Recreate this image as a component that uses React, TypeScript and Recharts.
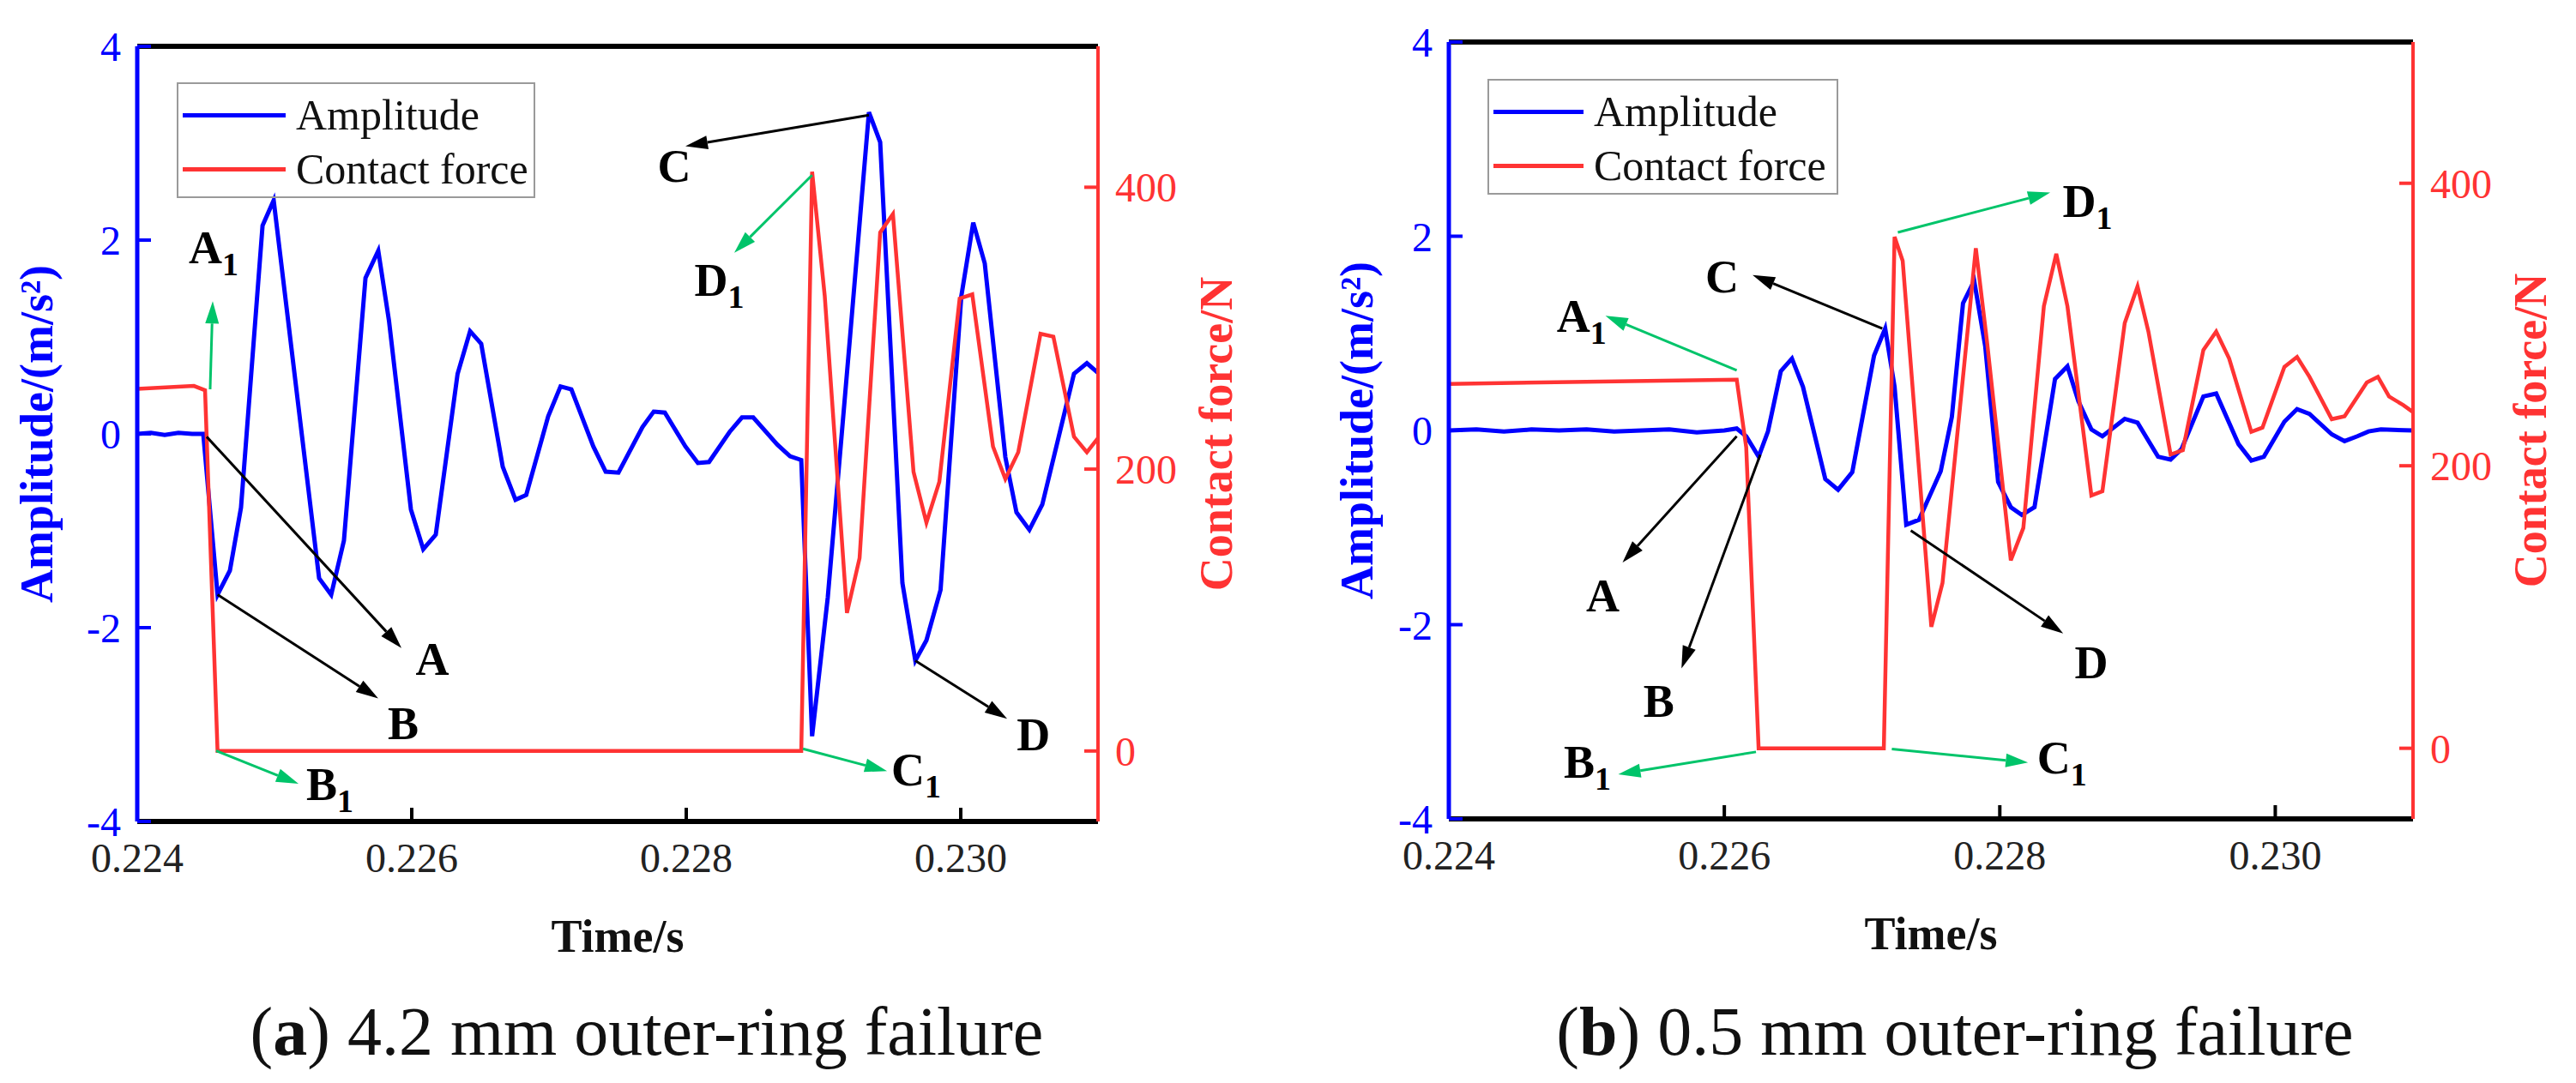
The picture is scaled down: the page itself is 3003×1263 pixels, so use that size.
import React from 'react';
import { LineChart, Line, XAxis, YAxis, ReferenceLine, ReferenceDot, Legend } from 'recharts';

// ---- (a) 4.2 mm outer-ring failure ----
const timeAmpA = [
  0.224, 0.2241, 0.2242, 0.2243, 0.2244, 0.224481, 0.224585, 0.224675, 0.224756, 0.224913,
  0.224994, 0.225325, 0.225413, 0.225506, 0.225663, 0.225756, 0.225834, 0.225994, 0.226084, 0.226175,
  0.226334, 0.226425, 0.226506, 0.226663, 0.226756, 0.226834, 0.226994, 0.227084, 0.227163, 0.227323,
  0.227413, 0.227506, 0.227681, 0.227763, 0.227844, 0.227994, 0.228085, 0.228166, 0.228316, 0.228406,
  0.228488, 0.228663, 0.228756, 0.228838, 0.228917, 0.229031, 0.229194, 0.229331, 0.229413, 0.229575,
  0.229669, 0.22975, 0.229853, 0.230004, 0.230091, 0.230175, 0.230325, 0.230406, 0.2305, 0.230594,
  0.230825, 0.230919, 0.231,
];
const ampA = [
  0.0, 0.01, -0.01, 0.01, 0.0, 0.0, -1.66, -1.41, -0.76, 2.15,
  2.41, -1.49, -1.66, -1.1, 1.61, 1.89, 1.17, -0.78, -1.19, -1.04,
  0.62, 1.06, 0.93, -0.34, -0.68, -0.63, 0.18, 0.49, 0.46, -0.13,
  -0.39, -0.4, 0.07, 0.23, 0.22, -0.13, -0.3, -0.29, 0.02, 0.17,
  0.17, -0.11, -0.23, -0.27, -3.12, -1.69, 1.01, 3.32, 3.01, -1.54,
  -2.34, -2.13, -1.61, 1.42, 2.18, 1.76, -0.24, -0.81, -0.99, -0.73,
  0.62, 0.73, 0.63,
];
const timeForceA = [
  0.224, 0.224413, 0.224494, 0.224585, 0.228838, 0.228917, 0.229009, 0.229171, 0.229263, 0.229413,
  0.229506, 0.229656, 0.22975, 0.229844, 0.229992, 0.230084, 0.230235, 0.230325, 0.230419, 0.230581,
  0.230675, 0.230825, 0.230919, 0.231,
];
const forceA = [
  257, 259, 256, 0, 0, 411, 323, 98, 137, 368,
  381, 198, 162, 191, 321, 324, 216, 193, 212, 296,
  294, 223, 212, 222,
];

// ---- (b) 0.5 mm outer-ring failure ----
const timeAmpB = [
  0.224, 0.2242, 0.2244, 0.2246, 0.2248, 0.225, 0.2252, 0.2254, 0.2256, 0.2258,
  0.226, 0.22609, 0.226159, 0.226249, 0.226317, 0.22641, 0.226491, 0.226571, 0.226733, 0.226826,
  0.226929, 0.227087, 0.227168, 0.227236, 0.227321, 0.227413, 0.227571, 0.227652, 0.227733, 0.227814,
  0.227894, 0.227988, 0.22808, 0.22816, 0.228252, 0.228401, 0.228491, 0.228571, 0.228665, 0.228745,
  0.228907, 0.229, 0.229149, 0.22924, 0.22932, 0.229478, 0.229571, 0.229733, 0.229826, 0.229917,
  0.230066, 0.230158, 0.230248, 0.23041, 0.230503, 0.230596, 0.230677, 0.230767, 0.231,
];
const ampB = [
  0.0, 0.01, -0.01, 0.01, 0.0, 0.01, -0.01, 0.0, 0.01, -0.02,
  0.0, 0.02, -0.06, -0.27, -0.01, 0.61, 0.74, 0.45, -0.5, -0.61,
  -0.43, 0.77, 1.05, 0.45, -0.97, -0.92, -0.42, 0.14, 1.31, 1.54,
  0.87, -0.53, -0.79, -0.87, -0.79, 0.53, 0.66, 0.3, 0.01, -0.06,
  0.12, 0.08, -0.27, -0.3, -0.19, 0.35, 0.38, -0.14, -0.31, -0.27,
  0.09, 0.22, 0.17, -0.04, -0.11, -0.06, -0.01, 0.01, 0.0,
];
const timeForceB = [
  0.224, 0.22609, 0.226159, 0.226249, 0.227158, 0.227236, 0.227295, 0.227503, 0.227584, 0.227826,
  0.227907, 0.22808, 0.228171, 0.22832, 0.22841, 0.228491, 0.228665, 0.228745, 0.228907, 0.229,
  0.229079, 0.22924, 0.229329, 0.229478, 0.229571, 0.229665, 0.229826, 0.229907, 0.230066, 0.230158,
  0.230248, 0.23041, 0.230503, 0.230665, 0.230745, 0.230826, 0.230929, 0.231,
];
const forceB = [
  258, 261, 213, 0, 0, 362, 345, 86, 117, 354,
  288, 133, 156, 313, 350, 313, 179, 182, 301, 327,
  295, 208, 211, 282, 295, 276, 224, 227, 270, 277,
  263, 233, 235, 259, 263, 249, 243, 238,
];

const timeTicks = [0.224, 0.226, 0.228, 0.23];
const ampTicks = [-4, -2, 0, 2, 4];
const forceTicks = [0, 200, 400];

// annotations, in (time, amplitude) coordinates
type Arrow = { from: [number, number]; to: [number, number]; kind: 'vib' | 'force' };
type Mark = { t: number; amp: number; text: string; sub?: string };

const arrowsA: Arrow[] = [
  { from: [0.224531, 0.46], to: [0.22455, 1.37], kind: 'force' },
  { from: [0.224506, -0.03], to: [0.225925, -2.21], kind: 'vib' },
  { from: [0.224585, -1.66], to: [0.225756, -2.73], kind: 'vib' },
  { from: [0.224575, -3.27], to: [0.225175, -3.61], kind: 'force' },
  { from: [0.229331, 3.29], to: [0.227994, 2.97], kind: 'vib' },
  { from: [0.228917, 2.67], to: [0.22835, 1.87], kind: 'force' },
  { from: [0.229669, -2.34], to: [0.230338, -2.94], kind: 'vib' },
  { from: [0.22885, -3.25], to: [0.229463, -3.48], kind: 'force' },
];
const marksA: Mark[] = [
  { t: 0.224556, amp: 1.92, text: 'A', sub: '1' },
  { t: 0.22615, amp: -2.33, text: 'A' },
  { t: 0.225938, amp: -2.99, text: 'B' },
  { t: 0.225403, amp: -3.62, text: 'B', sub: '1' },
  { t: 0.227913, amp: 2.76, text: 'C' },
  { t: 0.229675, amp: -3.47, text: 'C', sub: '1' },
  { t: 0.230529, amp: -3.11, text: 'D' },
  { t: 0.228241, amp: 1.58, text: 'D', sub: '1' },
];

const arrowsB: Arrow[] = [
  { from: [0.22609, 0.62], to: [0.225137, 1.18], kind: 'force' },
  { from: [0.22609, -0.06], to: [0.225261, -1.36], kind: 'vib' },
  { from: [0.226261, -0.25], to: [0.225689, -2.45], kind: 'vib' },
  { from: [0.22623, -3.31], to: [0.22523, -3.54], kind: 'force' },
  { from: [0.227147, 1.05], to: [0.226205, 1.6], kind: 'vib' },
  { from: [0.22726, 2.04], to: [0.228366, 2.45], kind: 'force' },
  { from: [0.227354, -1.03], to: [0.22846, -2.09], kind: 'vib' },
  { from: [0.227216, -3.28], to: [0.228205, -3.42], kind: 'force' },
];
const marksB: Mark[] = [
  { t: 0.224963, amp: 1.17, text: 'A', sub: '1' },
  { t: 0.225118, amp: -1.7, text: 'A' },
  { t: 0.225525, amp: -2.79, text: 'B' },
  { t: 0.225006, amp: -3.42, text: 'B', sub: '1' },
  { t: 0.225984, amp: 1.58, text: 'C' },
  { t: 0.228452, amp: -3.37, text: 'C', sub: '1' },
  { t: 0.228665, amp: -2.39, text: 'D' },
  { t: 0.228637, amp: 2.36, text: 'D', sub: '1' },
];

const SERIF = '"Liberation Serif", "Times New Roman", serif';
const BLUE = '#0000FF';
const RED = '#FF3333';
const GREEN = '#00C46A';
const H = 1263;
const AXIS_W = 140;
const XAXIS_H = 100;

const zip = (ts: number[], vs: number[]) => ts.map((t, i) => ({ t, v: vs[i] }));

function ArrowShape(props: any) {
  const { x1, y1, x2, y2, color } = props;
  const dx = x2 - x1;
  const dy = y2 - y1;
  const len = Math.hypot(dx, dy) || 1;
  const ux = dx / len;
  const uy = dy / len;
  const hl = 26;
  const hw = 8;
  const bx = x2 - ux * hl;
  const by = y2 - uy * hl;
  const pts = `${x2},${y2} ${bx - uy * hw},${by + ux * hw} ${bx + uy * hw},${by - ux * hw}`;
  return (
    <g>
      <line x1={x1} y1={y1} x2={bx} y2={by} stroke={color} strokeWidth={3} />
      <polygon points={pts} fill={color} />
    </g>
  );
}

function MarkText(props: any) {
  const { cx, cy, text, sub } = props;
  return (
    <text x={cx} y={cy + 18} textAnchor="middle" fontFamily={SERIF} fontWeight="bold" fontSize={54} fill="#000">
      {text}
      {sub ? (
        <tspan fontSize={38} dy={14}>
          {sub}
        </tspan>
      ) : null}
    </text>
  );
}

type Layout = {
  left: number;
  width: number;
  plotLeft: number;
  plotRight: number;
  plotTop: number;
  plotBottom: number;
  leftTitle: number;
  rightTitle: number;
  timeTitle: number;
  legendLeft: number;
  legendTop: number;
  legendWidth: number;
  legendLine: number;
};

const layoutA: Layout = {
  left: 0, width: 1480, plotLeft: 160, plotRight: 1280, plotTop: 54, plotBottom: 958,
  leftTitle: 117, rightTitle: 138, timeTitle: 152, legendLeft: 206, legendTop: 96, legendWidth: 418, legendLine: 120,
};
const layoutB: Layout = {
  left: 1500, width: 1503, plotLeft: 1689, plotRight: 2813, plotTop: 49, plotBottom: 955,
  leftTitle: 107, rightTitle: 137, timeTitle: 152, legendLeft: 1734, legendTop: 92, legendWidth: 409, legendLine: 105,
};

function Panel({ lay, amp, force, arrows, marks }: { lay: Layout; amp: any[]; force: any[]; arrows: Arrow[]; marks: Mark[] }) {
  const margin = {
    top: lay.plotTop,
    left: lay.plotLeft - lay.left - AXIS_W,
    right: lay.left + lay.width - lay.plotRight - AXIS_W,
    bottom: H - lay.plotBottom - XAXIS_H,
  };
  const midY = (lay.plotTop + lay.plotBottom) / 2;
  const lx = lay.plotLeft - lay.left - lay.leftTitle;
  const rx = lay.plotRight - lay.left + lay.rightTitle;

  const renderLegend = (p: any) => (
    <div
      style={{
        width: lay.legendWidth,
        height: 135,
        boxSizing: 'border-box',
        border: '2px solid #9a9a9a',
        paddingTop: 5,
      }}
    >
      {(p.payload || []).map((e: any) => (
        <div key={e.value} style={{ display: 'flex', alignItems: 'center', height: 63, whiteSpace: 'nowrap' }}>
          <div style={{ marginLeft: 5, width: lay.legendLine, height: 5, background: e.color, flex: 'none' }} />
          <span style={{ marginLeft: 12, fontFamily: SERIF, fontSize: 50, color: '#111', lineHeight: '63px' }}>
            {e.value}
          </span>
        </div>
      ))}
    </div>
  );

  return (
    <div style={{ position: 'absolute', left: lay.left, top: 0 }}>
      <LineChart width={lay.width} height={H} margin={margin}>
        <XAxis
          dataKey="t"
          type="number"
          domain={[0.224, 0.231]}
          allowDataOverflow
          ticks={timeTicks}
          interval={0}
          tickFormatter={(v: number) => v.toFixed(3)}
          height={XAXIS_H}
          tickSize={-16}
          tickMargin={41}
          axisLine={{ stroke: '#000', strokeWidth: 6 }}
          tickLine={{ stroke: '#000', strokeWidth: 4 }}
          tick={{ fill: '#222', fontSize: 48, fontFamily: SERIF }}
          label={{
            content: () => (
              <text
                x={(lay.plotLeft + lay.plotRight) / 2 - lay.left}
                y={lay.plotBottom + lay.timeTitle}
                textAnchor="middle"
                fontFamily={SERIF}
                fontWeight="bold"
                fontSize={54}
                fill="#111"
              >
                Time/s
              </text>
            ),
          }}
        />
        <YAxis
          yAxisId="amp"
          orientation="left"
          domain={[-4, 4]}
          ticks={ampTicks}
          interval={0}
          width={AXIS_W}
          tickSize={-16}
          tickMargin={35}
          axisLine={{ stroke: BLUE, strokeWidth: 5 }}
          tickLine={{ stroke: BLUE, strokeWidth: 4 }}
          tick={{ fill: BLUE, fontSize: 48, fontFamily: SERIF }}
          label={{
            content: () => (
              <text
                x={lx}
                y={midY}
                transform={`rotate(-90 ${lx} ${midY})`}
                textAnchor="middle"
                dominantBaseline="central"
                fontFamily={SERIF}
                fontWeight="bold"
                fontSize={54}
                fill={BLUE}
              >
                Amplitude/(m/s²)
              </text>
            ),
          }}
        />
        <YAxis
          yAxisId="force"
          orientation="right"
          domain={[-50, 500]}
          ticks={forceTicks}
          interval={0}
          width={AXIS_W}
          tickSize={-16}
          tickMargin={36}
          axisLine={{ stroke: RED, strokeWidth: 4 }}
          tickLine={{ stroke: RED, strokeWidth: 4 }}
          tick={{ fill: RED, fontSize: 48, fontFamily: SERIF }}
          label={{
            content: () => (
              <text
                x={rx}
                y={midY}
                transform={`rotate(-90 ${rx} ${midY})`}
                textAnchor="middle"
                dominantBaseline="central"
                fontFamily={SERIF}
                fontWeight="bold"
                fontSize={54}
                fill={RED}
              >
                Contact force/N
              </text>
            ),
          }}
        />
        <ReferenceLine yAxisId="amp" y={4} stroke="#000" strokeWidth={6} />
        <Legend
          layout="horizontal"
          verticalAlign="middle"
          align="center"
          content={renderLegend}
          wrapperStyle={{ left: lay.legendLeft - lay.left, top: lay.legendTop, width: lay.legendWidth }}
        />
        <Line
          yAxisId="amp"
          data={amp}
          dataKey="v"
          name="Amplitude"
          type="linear"
          stroke={BLUE}
          strokeWidth={5}
          dot={false}
          isAnimationActive={false}
        />
        <Line
          yAxisId="force"
          data={force}
          dataKey="v"
          name="Contact force"
          type="linear"
          stroke={RED}
          strokeWidth={4.5}
          dot={false}
          isAnimationActive={false}
        />
        {arrows.map((a, i) => (
          <ReferenceLine
            key={`ar${i}`}
            yAxisId="amp"
            segment={[
              { x: a.from[0], y: a.from[1] },
              { x: a.to[0], y: a.to[1] },
            ]}
            ifOverflow="visible"
            shape={(p: any) => <ArrowShape {...p} color={a.kind === 'vib' ? '#000' : GREEN} />}
          />
        ))}
        {marks.map((m, i) => (
          <ReferenceDot
            key={`mk${i}`}
            yAxisId="amp"
            x={m.t}
            y={m.amp}
            ifOverflow="visible"
            shape={(p: any) => <MarkText cx={p.cx} cy={p.cy} text={m.text} sub={m.sub} />}
          />
        ))}
      </LineChart>
    </div>
  );
}

function Caption({ center, tag, rest }: { center: number; tag: string; rest: string }) {
  return (
    <div
      style={{
        position: 'absolute',
        left: center - 750,
        top: 1163,
        width: 1500,
        textAlign: 'center',
        fontFamily: SERIF,
        fontSize: 80,
        lineHeight: '80px',
        color: '#111',
        whiteSpace: 'nowrap',
      }}
    >
      (<b>{tag}</b>) {rest}
    </div>
  );
}

export default function App() {
  return (
    <div style={{ position: 'absolute', left: 0, top: 0, width: 3003, height: H, background: '#fff', overflow: 'hidden' }}>
      <Panel lay={layoutA} amp={zip(timeAmpA, ampA)} force={zip(timeForceA, forceA)} arrows={arrowsA} marks={marksA} />
      <Panel lay={layoutB} amp={zip(timeAmpB, ampB)} force={zip(timeForceB, forceB)} arrows={arrowsB} marks={marksB} />
      <Caption center={754} tag="a" rest="4.2 mm outer-ring failure" />
      <Caption center={2279} tag="b" rest="0.5 mm outer-ring failure" />
    </div>
  );
}
